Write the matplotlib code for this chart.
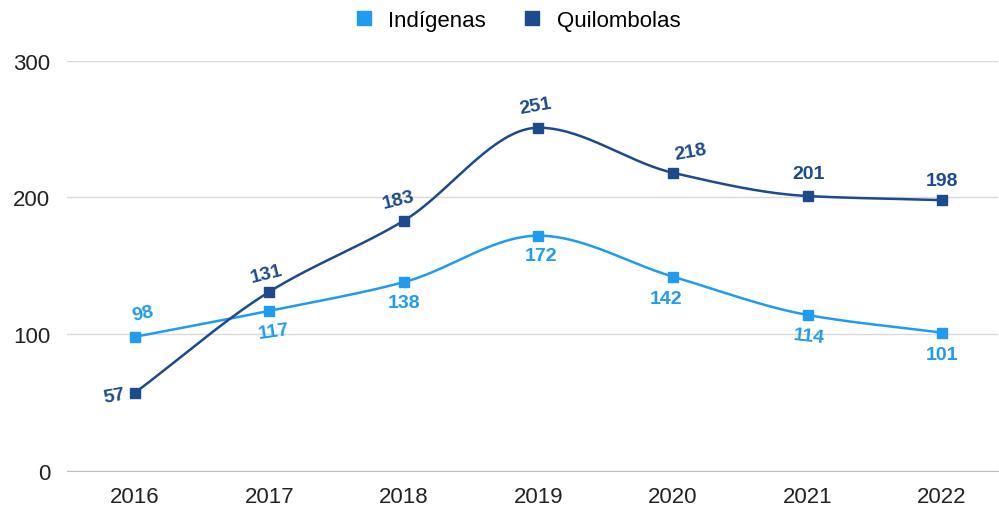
import numpy as np
import matplotlib.pyplot as plt

# Data ------------------------------------------------------

anos = ['2016', '2017', '2018', '2019', '2020', '2021', '2022']
indigenas = [98, 117, 138, 172, 142, 114, 101]
quilombolas = [57, 131, 183, 251, 218, 201, 198]

cor_ind = '#1f9bf0'
cor_qui = '#1d4a8c'

# label offsets (points) and rotation for each point
off_ind = [(6, 17, 12), (3, -15, 8), (0, -15, 0), (2, -14, 0), (-5, -16, 0), (1, -15, -6), (0, -16, 0)]
off_qui = [(-15, -2, 10), (-2, 13, 14), (-4, 15, 14), (-2, 16, 10), (13, 15, 10), (1, 16, 0), (0, 14, 0)]

# Smooth curve (monotone cubic) -----------------------------

def monotone(y, n=60):
    y = np.asarray(y, float)
    x = np.arange(len(y), dtype=float)
    d = np.diff(y)
    m = np.zeros_like(y)
    m[0], m[-1] = d[0], d[-1]
    for i in range(1, len(y) - 1):
        if d[i - 1] * d[i] > 0:
            m[i] = 2 / (1 / d[i - 1] + 1 / d[i])
    xs, ys = [], []
    for i in range(len(y) - 1):
        t = np.linspace(0, 1, n)
        h00 = 2*t**3 - 3*t**2 + 1
        h10 = t**3 - 2*t**2 + t
        h01 = -2*t**3 + 3*t**2
        h11 = t**3 - t**2
        xs.append(x[i] + t)
        ys.append(h00*y[i] + h10*m[i] + h01*y[i+1] + h11*m[i+1])
    return np.concatenate(xs), np.concatenate(ys)

# Plot ------------------------------------------------------

plt.rcParams['font.family'] = ['Liberation Sans', 'DejaVu Sans']
fig = plt.figure(figsize=(9.99, 5.10), dpi=100)
ax = fig.add_axes([0.067, 0.075, 0.932, 0.804])

x = np.arange(len(anos))
for vals, cor, nome, offs in [(indigenas, cor_ind, 'Indígenas', off_ind),
                              (quilombolas, cor_qui, 'Quilombolas', off_qui)]:
    xs, ys = monotone(vals)
    ax.plot(xs, ys, color=cor, lw=1.8, zorder=3)
    ax.plot(x, vals, 's', color=cor, ms=7.5, zorder=4, label=nome)
    for xi, v, (dx, dy, rot) in zip(x, vals, offs):
        ax.annotate(str(v), (xi, v), xytext=(dx, dy), textcoords='offset points',
                    ha='center', va='center', color=cor, fontsize=14,
                    fontweight='bold', rotation=rot)

ax.set_xlim(-0.505, 6.416)
ax.set_ylim(0, 300)
ax.set_yticks([0, 100, 200, 300])
ax.set_xticks(x)
ax.set_xticklabels(anos)
ax.grid(axis='y', color='#d9d9d9', lw=1)
ax.set_axisbelow(True)
for s in ['top', 'right', 'left']:
    ax.spines[s].set_visible(False)
ax.spines['bottom'].set_color('#bfbfbf')
ax.tick_params(axis='both', length=0, labelsize=16, colors='#222222')
ax.tick_params(axis='x', pad=11)
ax.tick_params(axis='y', pad=12)

ax.legend(loc='upper center', bbox_to_anchor=(0.484, 1.173), ncol=2, frameon=False,
          fontsize=16, handlelength=0.8, handletextpad=0.7, columnspacing=1.7,
          markerscale=1.25)

plt.savefig('out.png')
